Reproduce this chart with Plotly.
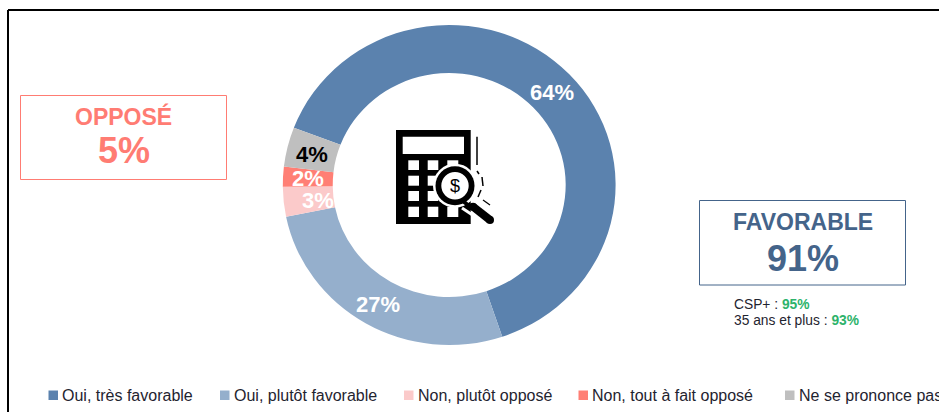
import plotly.graph_objects as go

W, H = 939, 412

categories = ["Oui, très favorable", "Oui, plutôt favorable", "Non, plutôt opposé",
              "Non, tout à fait opposé", "Ne se prononce pas"]
values = [64, 27, 3, 2, 4]
colors = ["#5B82AE", "#95AFCC", "#FBCACA", "#FF7F75", "#BFBFBF"]
label_colors = ["white", "white", "white", "white", "black"]
label_pos = [(551.7, 92.3), (378.3, 304), (317.7, 200.7), (307.7, 179), (311.7, 154)]
legend_marker_x = [48.5, 220, 404, 578.5, 785]

OPPOSE = "#FF7C73"
FAVOR = "#44648A"
GREEN = "#2DB36B"
INK = "#1F2430"

# The reference donut is slightly wider than tall.
CX, CY, RY, STRETCH = 449.2, 185, 160, 1.04


def px(x):
    return x / W


def py(y):
    return 1 - y / H


def rect(x0, y0, x1, y1, fill=None, line=None, lw=0, kind="rect"):
    return dict(type=kind, xref="paper", yref="paper", x0=px(x0), x1=px(x1), y0=py(y0), y1=py(y1),
                fillcolor=fill or "rgba(0,0,0,0)", line=dict(color=line or "rgba(0,0,0,0)", width=lw), layer="above")


def circle(cx, cy, r, fill):
    return rect(cx - r, cy - r, cx + r, cy + r, fill=fill, kind="circle")


def seg(x0, y0, x1, y1, color, lw):
    return dict(type="line", xref="paper", yref="paper", x0=px(x0), x1=px(x1), y0=py(y0), y1=py(y1),
                line=dict(color=color, width=lw), layer="above")


def text(x, y, s, size, color, bold=False, anchor="center"):
    return dict(x=px(x), y=py(y), xref="paper", yref="paper", text=f"<b>{s}</b>" if bold else s,
                showarrow=False, xanchor=anchor, yanchor="middle",
                font=dict(family="Liberation Sans", size=size, color=color))


shapes = [
    seg(8, 10, 939, 10, "#000000", 2),
    seg(8, 10, 8, 412, "#000000", 2),
    rect(20.5, 95.5, 226.5, 179.5, fill="white", line=OPPOSE, lw=1),
    rect(699.5, 200.5, 905.5, 285, fill="white", line=FAVOR, lw=1),
    # calculator icon
    rect(396, 130, 470.7, 224, fill="#000000"),
    rect(402.7, 136.7, 464, 154, fill="white"),
]
for bx0, bx1 in [(408.3, 419), (427.7, 438.3), (447.3, 458.3)]:
    for by0, by1 in [(160.3, 170), (175.7, 185.7), (191, 201), (206.7, 217)]:
        shapes.append(rect(bx0, by0, bx1, by1, fill="white"))
shapes += [
    seg(477, 136.7, 477, 165, "#000000", 1.5),
    circle(455, 185.7, 22, "white"),
    seg(462, 208, 474, 216, "white", 3),
    seg(464, 202, 476, 211, "#000000", 4),
    seg(473, 206.7, 490, 220, "#000000", 8),
    circle(490, 220, 4, "#000000"),
    circle(473, 206.7, 4, "#000000"),
    circle(455, 185.7, 19.5, "#000000"),
    circle(455, 185.7, 13.7, "white"),
    seg(477, 171, 479, 174, "#000000", 1.5),
    seg(482, 177, 483, 186, "#000000", 1.5),
    seg(481, 190, 478, 197, "#000000", 1.5),
    seg(483, 200, 490, 205, "#000000", 1.2),
]

annotations = [
    text(123.5, 116, "OPPOSÉ", 23, OPPOSE, True),
    text(123.5, 151, "5%", 36, OPPOSE, True),
    text(802.5, 222, "FAVORABLE", 23, FAVOR, True),
    text(802.5, 258, "91%", 36, FAVOR, True),
    text(732, 304, f'CSP+ : <b><span style="color:{GREEN}">95%</span></b>', 13.8, INK, anchor="left"),
    text(732, 320, f'35 ans et plus : <b><span style="color:{GREEN}">93%</span></b>', 13.8, INK, anchor="left"),
    text(455, 186, "$", 18, "#000000"),
]
for v, c, (lx, ly) in zip(values, label_colors, label_pos):
    annotations.append(text(lx, ly, f"{v}%", 22, c, True))
for name, color, mx in zip(categories, colors, legend_marker_x):
    shapes.append(rect(mx, 390.5, mx + 9.5, 400, fill=color))
    annotations.append(text(mx + 11.5, 395, name, 16, INK, anchor="left"))

fig = go.Figure(go.Pie(
    labels=categories, values=values, hole=0.7, sort=False, direction="clockwise", rotation=-69,
    marker=dict(colors=colors, line=dict(width=0)), textinfo="none", showlegend=False,
    domain=dict(x=[px(CX - RY), px(CX + RY)], y=[py(CY + RY), py(CY - RY)]),
))
fig.update_layout(width=W, height=H, margin=dict(l=0, r=0, t=0, b=0), paper_bgcolor="white",
                  shapes=shapes, annotations=annotations, showlegend=False)
post = (
    "document.body.style.margin='0';document.body.style.overflow='hidden';"
    "document.querySelectorAll('.pielayer').forEach(function(g){"
    f"g.setAttribute('transform','translate({CX},{CY}) scale({STRETCH},1) translate({-CX},{-CY})');}});"
)
fig.write_html("out.html", config=dict(displayModeBar=False), post_script=post)
